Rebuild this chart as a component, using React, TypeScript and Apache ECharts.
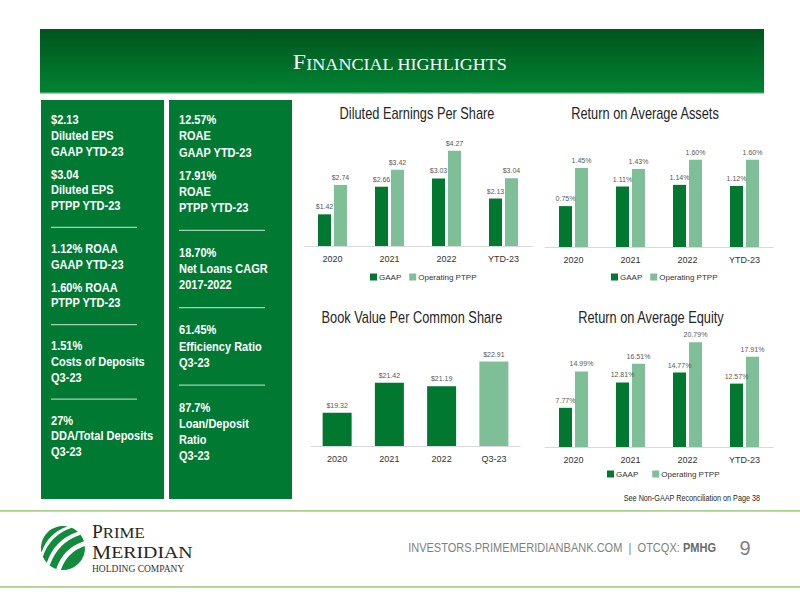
import React, { useEffect, useRef } from "react";
import * as echarts from "echarts";

const SANS = "'Liberation Sans', Arial, Helvetica, sans-serif";
const SERIF = "'Liberation Serif', 'Times New Roman', serif";

const DARK = "#00782F";
const LIGHT = "#7FBF97";
const PANEL = "#007A33";

// ---- data ----
const yearCats = ["2020", "2021", "2022", "YTD-23"];
const bookCats = ["2020", "2021", "2022", "Q3-23"];
const seriesNames = ["GAAP", "Operating PTPP"];

const epsGaap = [1.42, 2.66, 3.03, 2.13];
const epsPtpp = [2.74, 3.42, 4.27, 3.04];
const roaaGaap = [0.75, 1.11, 1.14, 1.12];
const roaaPtpp = [1.45, 1.43, 1.6, 1.6];
const bookValue = [19.32, 21.42, 21.19, 22.91];
const roaeGaap = [7.77, 12.81, 14.77, 12.57];
const roaePtpp = [14.99, 16.51, 20.79, 17.91];

const chartTitles = [
  "Diluted Earnings Per Share",
  "Return on Average Assets",
  "Book Value Per Common Share",
  "Return on Average Equity",
];

const panelLeft = [
  [["$2.13", "Diluted EPS", "GAAP YTD-23"], ["$3.04", "Diluted EPS", "PTPP YTD-23"]],
  [["1.12% ROAA", "GAAP YTD-23"], ["1.60% ROAA", "PTPP YTD-23"]],
  [["1.51%", "Costs of Deposits", "Q3-23"]],
  [["27%", "DDA/Total Deposits", "Q3-23"]],
];
const panelRight = [
  [["12.57%", "ROAE", "GAAP YTD-23"], ["17.91%", "ROAE", "PTPP YTD-23"]],
  [["18.70%", "Net Loans CAGR", "2017-2022"]],
  [["61.45%", "Efficiency Ratio", "Q3-23"]],
  [["87.7%", "Loan/Deposit", "Ratio", "Q3-23"]],
];

const headerTitleFirst = "F";
const headerTitleRest = "INANCIAL HIGHLIGHTS";
const footerUrl = "INVESTORS.PRIMEMERIDIANBANK.COM";
const footerTicker = "PMHG";
const pageNumber = "9";
const noteText = "See Non-GAAP Reconciliation on Page 38";

// ---- logo shape ----
const R = 22;
const SQ = Math.SQRT1_2;
function chordEnds(s: number) {
  const h = Math.sqrt(R * R - s * s);
  const mx = R + s * SQ;
  const my = R + s * SQ;
  return {
    lo: [mx - h * SQ, my + h * SQ],
    hi: [mx + h * SQ, my - h * SQ],
    ctrl: [mx - 0.5 * h * SQ, my - 0.5 * h * SQ],
  };
}
const f = (p: number[]) => `${p[0].toFixed(2)} ${p[1].toFixed(2)}`;
function bandPath(sa: number, sb: number) {
  if (sa <= -R) {
    const B = chordEnds(sb);
    return `M ${f(B.lo)} A ${R} ${R} 0 0 1 ${f(B.hi)} Q ${f(B.ctrl)} ${f(B.lo)} Z`;
  }
  if (sb >= R) {
    const A = chordEnds(sa);
    return `M ${f(A.lo)} Q ${f(A.ctrl)} ${f(A.hi)} A ${R} ${R} 0 0 1 ${f(A.lo)} Z`;
  }
  const A = chordEnds(sa);
  const B = chordEnds(sb);
  return `M ${f(A.lo)} Q ${f(A.ctrl)} ${f(A.hi)} A ${R} ${R} 0 0 1 ${f(B.hi)} Q ${f(B.ctrl)} ${f(B.lo)} A ${R} ${R} 0 0 1 ${f(A.lo)} Z`;
}
const logoD = [
  bandPath(-R, -12),
  bandPath(-8, -1),
  bandPath(3, 10),
  bandPath(14, R),
].join(" ");
echarts.graphic.registerShape("pmLogo", echarts.graphic.extendPath(logoD, {}) as any);

// ---- helpers ----
function panelElements(sections: string[][][], x: number, lh: number, subGap: number, sepGap: number) {
  const els: any[] = [];
  let y = 120;
  sections.forEach((section, si) => {
    section.forEach((group, gi) => {
      group.forEach((line, li) => {
        els.push({
          type: "text",
          x,
          y,
          scaleX: 0.92,
          style: {
            text: line,
            fill: "#FFFFFF",
            font: `bold 12px ${SANS}`,
            verticalAlign: "middle",
            align: "left",
          },
        });
        if (li < group.length - 1) y += lh;
      });
      if (gi < section.length - 1) y += subGap;
    });
    if (si < sections.length - 1) {
      const sy = y + sepGap;
      els.push({
        type: "line",
        shape: { x1: x, y1: sy, x2: x + 86, y2: sy },
        style: { stroke: "rgba(255,255,255,0.8)", lineWidth: 1 },
      });
      y = sy + sepGap;
    }
  });
  return els;
}

function catAxis(gridIndex: number, data: string[]) {
  return {
    type: "category",
    gridIndex,
    data,
    axisLine: { lineStyle: { color: "#D9D9D9", width: 1 } },
    axisTick: { show: false },
    axisLabel: { color: "#333333", fontSize: 9, fontFamily: SANS, margin: 8 },
  };
}
function valAxis(gridIndex: number, min: number, max: number) {
  return { type: "value", gridIndex, min, max, show: false, splitLine: { show: false } };
}
const labelStyle = (formatter: (v: number) => string) => ({
  show: true,
  position: "top",
  distance: 4,
  fontSize: 7,
  color: "#595959",
  fontFamily: SANS,
  formatter: (p: any) => formatter(p.value),
});
const dollars = (v: number) => "$" + v.toFixed(2);
const pct = (v: number) => v.toFixed(2) + "%";

function pairSeries(idx: number, gaap: number[], ptpp: number[], fmt: (v: number) => string) {
  return [
    {
      type: "bar",
      name: seriesNames[0],
      xAxisIndex: idx,
      yAxisIndex: idx,
      data: gaap,
      barWidth: 13,
      barGap: "23%",
      itemStyle: { color: DARK },
      label: labelStyle(fmt),
    },
    {
      type: "bar",
      name: seriesNames[1],
      xAxisIndex: idx,
      yAxisIndex: idx,
      data: ptpp,
      barWidth: 13,
      barGap: "23%",
      itemStyle: { color: LIGHT },
      label: labelStyle(fmt),
    },
  ];
}

function legendAt(left: number, top: number, gap: number) {
  return {
    data: seriesNames,
    left,
    top,
    padding: 0,
    itemWidth: 7,
    itemHeight: 7,
    itemGap: gap,
    icon: "rect",
    selectedMode: false,
    textStyle: { fontSize: 8, color: "#333333", fontFamily: SANS, padding: [0, 0, 0, -3] },
  };
}

export default function App() {
  const ref = useRef<HTMLDivElement>(null);
  useEffect(() => {
    if (!ref.current) return;
    const chart = echarts.init(ref.current, null, { renderer: "svg" });

    const titlePos = [
      [417, 113],
      [645, 113],
      [412, 317],
      [651, 317],
    ];

    const graphics: any[] = [
      // header
      {
        type: "rect",
        shape: { x: 40, y: 29, width: 724, height: 64 },
        style: {
          fill: new echarts.graphic.LinearGradient(0, 0, 0, 1, [
            { offset: 0, color: "#00541D" },
            { offset: 1, color: "#008432" },
          ]),
        },
      },
      {
        type: "rect",
        shape: { x: 40, y: 92, width: 724, height: 1.5 },
        style: { fill: "#3FA25E" },
      },
      {
        type: "text",
        x: 400,
        y: 62,
        scaleX: 1.13,
        style: {
          text: `{a|${headerTitleFirst}}{b|${headerTitleRest}}`,
          align: "center",
          verticalAlign: "middle",
          rich: {
            a: { fontSize: 21, fontFamily: SERIF, fill: "#FFFFFF", lineHeight: 21, verticalAlign: "bottom" },
            b: { fontSize: 16, fontFamily: SERIF, fill: "#FFFFFF", lineHeight: 16, verticalAlign: "bottom" },
          },
        },
      },
      // panels
      { type: "rect", shape: { x: 41, y: 100, width: 123, height: 399 }, style: { fill: PANEL } },
      { type: "rect", shape: { x: 169, y: 100, width: 123, height: 399 }, style: { fill: PANEL } },
      ...panelElements(panelLeft, 51, 15.7, 23, 21.5),
      ...panelElements(panelRight, 179, 16.2, 23, 22.5),
      // chart titles
      ...chartTitles.map((t, i) => ({
        type: "text",
        x: titlePos[i][0],
        y: titlePos[i][1],
        scaleX: 0.8,
        style: {
          text: t,
          fill: "#262626",
          font: `16px ${SANS}`,
          align: "center",
          verticalAlign: "middle",
        },
      })),
      {
        type: "text",
        x: 760,
        y: 498,
        scaleX: 0.85,
        style: { text: noteText, fill: "#262626", font: `8.5px ${SANS}`, align: "right", verticalAlign: "middle" },
      },
      // footer
      { type: "rect", shape: { x: 0, y: 510, width: 800, height: 1.8 }, style: { fill: "#A9D08E" } },
      { type: "rect", shape: { x: 0, y: 586, width: 800, height: 1.8 }, style: { fill: "#A9D08E" } },
      { type: "pmLogo", x: 41, y: 526, style: { fill: "#138B3D" } },
      {
        type: "text",
        x: 92,
        y: 531.5,
        scaleX: 1.08,
        style: {
          text: "{a|P}{b|RIME}",
          verticalAlign: "middle",
          rich: {
            a: { fontSize: 18, fontFamily: SERIF, fill: "#262626", lineHeight: 18, verticalAlign: "bottom" },
            b: { fontSize: 15.5, fontFamily: SERIF, fill: "#262626", lineHeight: 18, verticalAlign: "bottom" },
          },
        },
      },
      {
        type: "text",
        x: 92,
        y: 552.5,
        scaleX: 1.2,
        style: {
          text: "{a|M}{b|ERIDIAN}",
          verticalAlign: "middle",
          rich: {
            a: { fontSize: 18, fontFamily: SERIF, fill: "#262626", lineHeight: 18, verticalAlign: "bottom" },
            b: { fontSize: 16.5, fontFamily: SERIF, fill: "#262626", lineHeight: 18, verticalAlign: "bottom" },
          },
        },
      },
      {
        type: "text",
        x: 92,
        y: 568.5,
        style: { text: "HOLDING COMPANY", fill: "#333333", font: `9.5px ${SERIF}`, verticalAlign: "middle" },
      },
      {
        type: "text",
        x: 716,
        y: 548,
        scaleX: 0.92,
        style: {
          text: `{u|${footerUrl}}{s|  |  OTCQX: }{t|${footerTicker}}`,
          align: "right",
          verticalAlign: "middle",
          rich: {
            u: { fontSize: 12, fontFamily: SANS, fill: "#7F7F7F" },
            s: { fontSize: 12, fontFamily: SANS, fill: "#7F7F7F" },
            t: { fontSize: 12, fontFamily: SANS, fill: "#6A6A6A", fontWeight: "bold" },
          },
        },
      },
      {
        type: "text",
        x: 745,
        y: 548,
        style: { text: pageNumber, fill: "#7F7F7F", font: `20px ${SANS}`, align: "center", verticalAlign: "middle" },
      },
    ];

    const option: any = {
      animation: false,
      backgroundColor: "#FFFFFF",
      textStyle: { fontFamily: SANS },
      grid: [
        { left: 304, top: 139, width: 228, height: 107 },
        { left: 545, top: 138, width: 228, height: 109 },
        { left: 311, top: 346, width: 209, height: 100 },
        { left: 545, top: 326, width: 228, height: 121 },
      ],
      xAxis: [catAxis(0, yearCats), catAxis(1, yearCats), catAxis(2, bookCats), catAxis(3, yearCats)],
      yAxis: [valAxis(0, 0, 4.8), valAxis(1, 0, 2.0), valAxis(2, 17, 24), valAxis(3, 0, 24)],
      legend: [legendAt(370, 273, 8), legendAt(611, 273, 8), legendAt(607, 470, 14)],
      series: [
        ...pairSeries(0, epsGaap, epsPtpp, dollars),
        ...pairSeries(1, roaaGaap, roaaPtpp, pct),
        {
          type: "bar",
          name: "Book Value",
          xAxisIndex: 2,
          yAxisIndex: 2,
          barWidth: 29,
          data: bookValue.map((v, i) => ({
            value: v,
            itemStyle: { color: i === bookValue.length - 1 ? LIGHT : DARK },
          })),
          label: labelStyle(dollars),
        },
        ...pairSeries(3, roaeGaap, roaePtpp, pct),
      ],
      graphic: { elements: graphics },
    };
    chart.setOption(option);
    return () => chart.dispose();
  }, []);

  return (
    <div
      ref={ref}
      style={{ position: "absolute", left: 0, top: 0, width: 800, height: 600, background: "#fff" }}
    />
  );
}
